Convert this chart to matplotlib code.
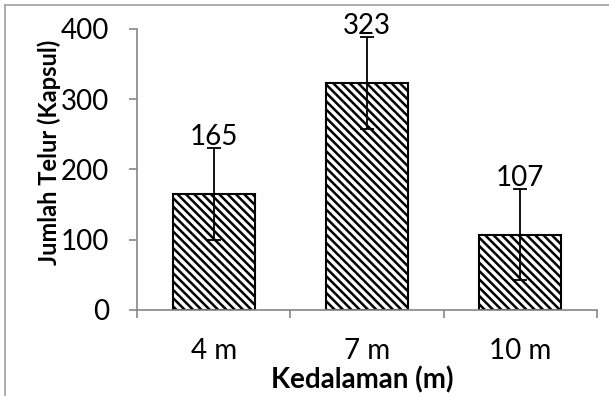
import matplotlib
matplotlib.use("Agg")
import matplotlib.pyplot as plt
from matplotlib.lines import Line2D

# Data
kategori = ["4 m", "7 m", "10 m"]
jumlah = [165, 323, 107]
galat = [65, 65, 65]
y_ticks = [0, 100, 200, 300, 400]

plt.rcParams["font.family"] = ["Lato", "DejaVu Sans"]
plt.rcParams["hatch.linewidth"] = 1.8
plt.rcParams["hatch.color"] = "#222222"

FS = 20

fig = plt.figure(figsize=(6.09, 3.96), dpi=100)
ax = fig.add_axes([0.225, 0.2172, 0.755, 0.7096])

x = range(len(kategori))
ax.bar(x, jumlah, width=0.535, color="white", edgecolor="black",
       linewidth=1.5, hatch="\\\\\\\\", zorder=2)
ax.errorbar(x, jumlah, yerr=galat, fmt="none", ecolor="black",
            elinewidth=1.3, capsize=5, capthick=1.3, zorder=3)

# Label nilai di atas error bar
for xi, v, e in zip(x, jumlah, galat):
    ax.annotate(str(v), (xi, v + e), xytext=(0, -1), textcoords="offset points",
                ha="center", va="bottom", fontsize=FS)

ax.set_xlim(-0.5, len(kategori) - 0.5)
ax.set_ylim(0, 400)
ax.set_yticks(y_ticks)
ax.set_xticks(list(x))
ax.set_xticklabels(kategori)
ax.set_xticks([-0.5, 0.5, 1.5, 2.5], minor=True)

for s in ["top", "right"]:
    ax.spines[s].set_visible(False)
for s in ["left", "bottom"]:
    ax.spines[s].set_color("#868686")
    ax.spines[s].set_linewidth(1.2)

ax.tick_params(axis="y", direction="out", length=6, width=1.2, color="#868686",
               pad=14, labelsize=FS)
ax.tick_params(axis="x", which="major", length=0, pad=20, labelsize=FS)
ax.tick_params(axis="x", which="minor", direction="out", length=6, width=1.2,
               color="#868686")

ax.set_ylabel("Jumlah Telur (Kapsul)", fontsize=17, fontweight="bold")
ax.yaxis.set_label_coords(-0.165, 0.56)
ax.set_xlabel("Kedalaman (m)", fontsize=FS, fontweight="bold")
ax.xaxis.set_label_coords(0.49, -0.2)

# Bingkai chart (hanya sisi kiri dan atas terlihat)
fig.add_artist(Line2D([5 / 609, 5 / 609], [0, 1 - 5 / 396],
                      transform=fig.transFigure, color="#a0a0a0", lw=1.2))
fig.add_artist(Line2D([5 / 609, 1], [1 - 5 / 396, 1 - 5 / 396],
                      transform=fig.transFigure, color="#a0a0a0", lw=1.2))

fig.savefig("out.png", dpi=100)
